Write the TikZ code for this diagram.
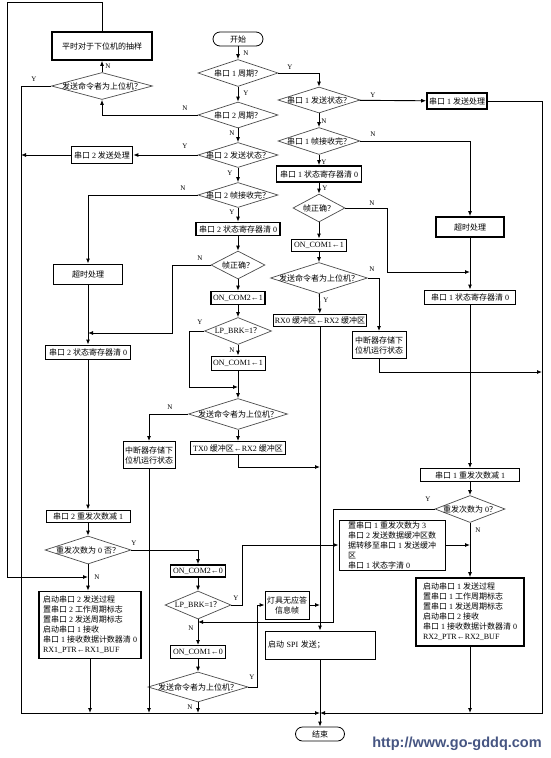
\documentclass[tikz,border=0pt]{standalone}
\usepackage{fontspec}
\setmainfont{Liberation Serif}
\newfontfamily\cjk{Noto Sans CJK SC}
\newfontfamily\urlfont{Liberation Sans}
% switch to the CJK font for Chinese characters
\XeTeXinterchartokenstate=1
\newXeTeXintercharclass\cjkcls
\newcount\cjkcnt
\cjkcnt="4E00
\loop
  \XeTeXcharclass\cjkcnt=\cjkcls
  \advance\cjkcnt by 1
\ifnum\cjkcnt<"A000 \repeat
\XeTeXcharclass"FF1F=\cjkcls
\XeTeXcharclass"FF1B=\cjkcls
\XeTeXinterchartoks 0 \cjkcls = {\cjk}
\XeTeXinterchartoks 4095 \cjkcls = {\cjk}
\XeTeXinterchartoks \cjkcls 0 = {\rmfamily}
\XeTeXinterchartoks \cjkcls 4095 = {\rmfamily}
\usetikzlibrary{positioning,arrows.meta,shapes.geometric}
\definecolor{urlblue}{RGB}{70,85,130}
\newcommand\dt[1]{\makebox[0pt]{#1}}

\begin{document}
\begin{tikzpicture}[
  x=1pt, y=-1pt,
  font=\fontsize{8}{10}\selectfont,
  sz/.style 2 args={minimum width=#1pt, minimum height=#2pt},
  box/.style={draw, line width=0.9pt, inner sep=1pt},
  tbox/.style={box, line width=1.7pt},
  dia/.style={diamond, draw=black!70, line width=0.7pt, inner sep=0pt},
  term/.style={draw, line width=0.8pt, rounded corners=7pt, inner sep=1pt},
  arr/.style={-{Latex[length=5pt,width=4pt]}, line width=0.9pt},
  yn/.style={font=\fontsize{7}{8}\selectfont, inner sep=0pt},
]
  \path[use as bounding box, fill=white] (0,0) rectangle (550,758);

  % main column
  \node[term, sz={50}{14}] (start) at (238,39) {开始};
  \node[dia, sz={80}{27}] (q1) at (238,73) {\dt{串口 1 周期？}};
  \node[dia, sz={80}{26}] (q2) at (238,115) {\dt{串口 2 周期？}};
  \node[dia, sz={80}{25}] (s2) at (238,155) {\dt{串口 2 发送状态？}};
  \node[dia, sz={80}{25}] (r2) at (238,195) {\dt{串口 2 帧接收完？}};
  \node[tbox, sz={84}{13}] (clr2) at (238,229) {串口 2 状态寄存器清 0};
  \node[dia, sz={54}{28}] (ok2) at (238,265) {\dt{帧正确？}};
  \node[tbox, sz={54}{13}] (on2) at (238,298) {ON\_COM2←1};
  \node[dia, sz={67}{27}] (lp1) at (238,331) {\dt{LP\_BRK=1？}};
  \node[box, sz={54}{14}] (on1) at (238,363) {ON\_COM1←1};
  \node[dia, sz={99}{31}] (host2) at (238,414) {\dt{发送命令者为上位机？}};
  \node[box, sz={95}{13}] (tx0) at (238,448) {TX0 缓冲区←RX2 缓冲区};
  \node[box, sz={52}{27}, align=center] (keep2) at (149,455) {中断器存储下\\位机运行状态};

  % left column
  \node[tbox, sz={100}{28}] (poll) at (102,46) {平时对于下位机的抽样};
  \node[dia, sz={101}{27}] (host0) at (102,86) {\dt{发送命令者为上位机？}};
  \node[tbox, sz={61}{17}] (send2) at (102,155) {串口 2 发送处理};
  \node[box, sz={69}{20}] (tout2) at (88,274) {超时处理};
  \node[box, sz={85}{14}] (clr2b) at (88,352) {串口 2 状态寄存器清 0};
  \node[box, sz={84}{12}] (dec2) at (88,516) {串口 2 重发次数减 1};
  \node[dia, sz={86}{28}] (zero2) at (88,550) {\dt{重发次数为 0 否？}};
  \node[tbox, sz={102}{67}, align=left] (go2) at (90,625)
    {启动串口 2 发送过程\\置串口 2 工作周期标志\\置串口 2 发送周期标志\\启动串口 1 接收\\串口 1 接收数据计数器清 0\\RX1\_PTR←RX1\_BUF};

  % lower middle
  \node[tbox, sz={55}{12}] (off2) at (198,571) {ON\_COM2←0};
  \node[dia, sz={66}{28}] (lp2) at (198,605) {\dt{LP\_BRK=1？}};
  \node[box, sz={55}{13}] (off1) at (198,652) {ON\_COM1←0};
  \node[dia, sz={100}{30}] (host3) at (198,687) {\dt{发送命令者为上位机？}};
  \node[box, sz={44}{28}, align=center] (lamp) at (287,605) {灯具无应答\\信息帧};
  \node[box, sz={110}{28}, text width=104pt, align=left] (spi) at (320,645) {启动 SPI 发送；};
  \node[term, sz={49}{14}] (stop) at (320,734) {结束};

  % right column
  \node[dia, sz={82}{26}] (s1) at (319,100) {\dt{串口 1 发送状态？}};
  \node[tbox, sz={60}{16}] (send1) at (457,101) {串口 1 发送处理};
  \node[dia, sz={82}{27}] (r1) at (319,141) {\dt{串口 1 帧接收完？}};
  \node[tbox, sz={85}{16}] (clr1) at (319,174) {串口 1 状态寄存器清 0};
  \node[dia, sz={52}{28}] (ok1) at (319,208) {\dt{帧正确？}};
  \node[box, sz={55}{12}] (on1r) at (319,245) {ON\_COM1←1};
  \node[dia, sz={97}{31}] (host1) at (319,278) {\dt{发送命令者为上位机？}};
  \node[box, sz={92}{12}] (rx0) at (320,320) {RX0 缓冲区←RX2 缓冲区};
  \node[box, sz={54}{27}, align=center] (keep1) at (379,345) {中断器存储下\\位机运行状态};
  \node[tbox, sz={68}{20}] (tout1) at (470,227) {超时处理};
  \node[box, sz={91}{14}] (clr1b) at (470,297) {串口 1 状态寄存器清 0};
  \node[box, sz={99}{13}] (dec1) at (470,475) {串口 1 重发次数减 1};
  \node[dia, sz={70}{27}] (zero1) at (470,509) {\dt{重发次数为 0？}};
  \node[box, sz={106}{50}, align=left] (set1) at (392,545)
    {置串口 1 重发次数为 3\\串口 2 发送数据缓冲区数\\据转移至串口 1 发送缓冲\\区\\串口 1 状态字清 0};
  \node[tbox, sz={108}{68}, align=left] (go1) at (470,612)
    {启动串口 1 发送过程\\置串口 1 工作周期标志\\置串口 1 发送周期标志\\启动串口 2 接收\\串口 1 接收数据计数器清 0\\RX2\_PTR←RX2\_BUF};

  \node[text=urlblue, font=\urlfont\bfseries\fontsize{14.5}{16}\selectfont, inner sep=0pt] (url) at (457,744) {http://www.go-gddq.com};

  % corner points
  \coordinate (tl) at (7,2);
  \coordinate (bl) at (7,577);
  \coordinate (lb) at (21,713);
  \coordinate (rb) at (542,713);
  \coordinate (bot) at (320,713);

  % connectors
  \draw[arr] (start) -- (q1);
  \draw[arr] (q1) -- (q2);
  \draw[arr] (q1.east) -| (s1.north);
  \draw[arr] (q2) -- (s2);
  \draw[arr] (q2.west) -| (host0.south);
  \draw[arr] (host0) -- (poll);
  \draw[arr] (poll.north) |- (tl) -- (bl) -- (bl -| zero2.south);
  \draw[arr] (host0.west) -| (lb) -- (bot);
  \draw[arr] (s2) -- (r2);
  \draw[arr] (s2) -- (send2);
  \draw[arr] (send2.west) -- (send2.west -| lb);
  \draw[arr] (r2.west) -| (tout2.north);
  \draw[arr] (r2) -- (clr2);
  \draw[arr] (clr2) -- (ok2);
  \draw[arr] (ok2.west) -| (172,333) -- (tout2 |- 0,333);
  \draw[arr] (tout2) -- (clr2b);
  \draw[arr] (ok2) -- (on2);
  \draw[arr] (on2) -- (lp1);
  \draw[arr] (lp1) -- (on1);
  \draw[arr] (on1) -- (host2);
  \draw[arr] (lp1.west) -| (189,387) -- (host2 |- 0,387);
  \draw[arr] (host2.west) -| (keep2.north);
  \draw[arr] (host2) -- (tx0);
  \draw[arr] (tx0.south) |- (bot |- 0,467);
  \draw[arr] (keep2.south) -- (keep2.south |- bot);
  \draw[arr] (clr2b) -- (dec2);
  \draw[arr] (dec2) -- (zero2);
  \draw[arr] (zero2.south) -- (zero2.south |- go2.north);
  \draw[arr] (zero2.east) -| (off2.north);
  \draw[arr] (go2.south) -- (go2.south |- bot);
  \draw[arr] (off2) -- (lp2);
  \draw[arr] (lp2) -- (off1);
  \draw[arr] (off1) -- (host3);
  \draw[arr] (host3.south) -- (host3.south |- bot);
  \draw[arr] (lp2.east) -- (242,605) |- (set1.west);
  \draw[arr] (host3.east) -- (257,687) |- (lamp.west);
  \draw[arr] (lamp.east) -- (lamp.east -| bot);
  \draw[arr] (spi) -- (stop);
  \draw[arr] (s1) -- (send1);
  \draw[arr] (send1.east) -| (rb) -- (bot);
  \draw[arr] (s1) -- (r1);
  \draw[arr] (r1.east) -| (tout1.north);
  \draw[arr] (r1) -- (clr1);
  \draw[arr] (clr1) -- (ok1);
  \draw[arr] (ok1) -- (on1r);
  \draw[arr] (on1r) -- (host1);
  \draw[arr] (ok1.east) -| (387,272) -- (tout1 |- 0,272);
  \draw[arr] (host1.east) -| (keep1.north);
  \draw[arr] (host1) -- (rx0);
  \draw[arr] (rx0) -- (spi);
  \draw[arr] (keep1.south) |- (rb |- 0,372);
  \draw[arr] (tout1) -- (clr1b);
  \draw[arr] (clr1b) -- (dec1);
  \draw[arr] (dec1) -- (zero1);
  \draw[arr] (zero1) -- (go1);
  \draw[arr] (zero1.west) -| (333,622) -- (lp2 |- 0,622);
  \draw[arr] (set1.east) -- (set1.east -| zero1);
  \draw[arr] (go1.south) -- (go1.south |- bot);

  % branch labels
  \foreach \t/\x/\y [count=\i] in {N/246/53, Y/246/93, Y/290/67, N/185/108,
      N/232/133, Y/185/146, Y/230/173, N/183/188, Y/232/212, N/200/258,
      Y/200/322, N/232/350, N/170/407, Y/373/95, N/324/121, N/373/134,
      Y/324/162, Y/325/188, N/372/203, N/372/269, Y/326/300, N/108/66,
      Y/34/79, Y/428/499, N/478/530, Y/134/543, N/97/577, Y/236/598,
      N/191/628, Y/252/677, N/190/707}
    \node[yn] (lab\i) at (\x,\y) {\t};
\end{tikzpicture}
\end{document}
